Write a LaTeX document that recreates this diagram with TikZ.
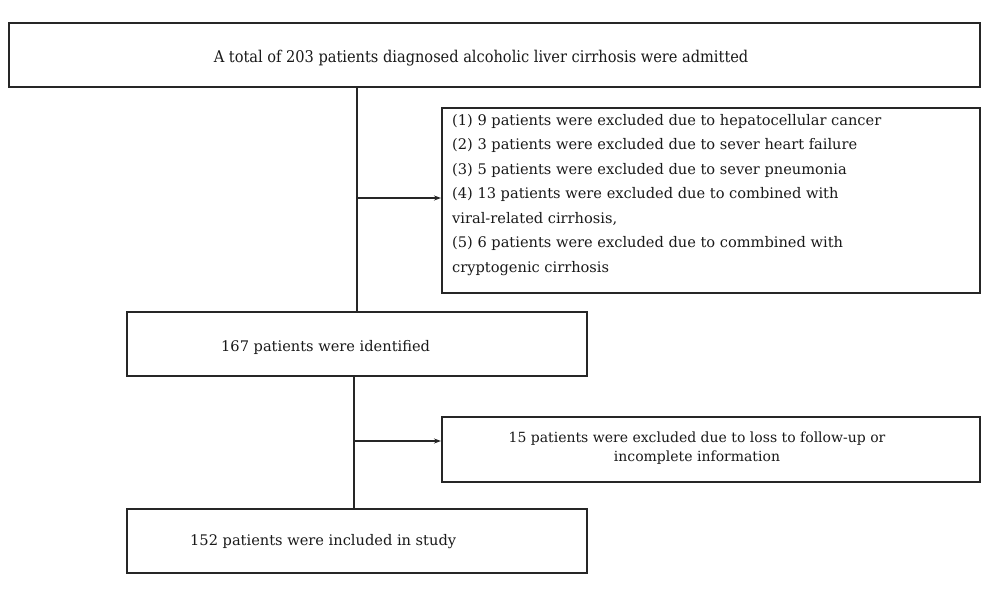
\documentclass[tikz,border=0pt]{standalone}
\usepackage{fontspec}
\setmainfont{DejaVu Serif}
\newfontfamily\condfont{DejaVu Serif Condensed}
\usetikzlibrary{arrows.meta}
\begin{document}
\begin{tikzpicture}[x=1pt,y=-1pt,
  box/.style={draw=black!85,line width=1.7pt,rectangle,inner sep=0pt,anchor=north west},
  txt/.style={inner sep=0pt,font=\fontsize{14.6}{24.5}\selectfont,text=black!90},
  conn/.style={draw=black!85,line width=1.6pt},
  arr/.style={conn,-{Stealth[length=7pt,width=5pt]}}]
\useasboundingbox (0,0) rectangle (1000,597);
% boxes
\node[box,minimum width=971pt,minimum height=64pt] (top) at (8,22) {};
\node[box,minimum width=538pt,minimum height=185pt] (excl) at (441,107) {};
\node[box,minimum width=460pt,minimum height=64pt] (ident) at (126,311) {};
\node[box,minimum width=538pt,minimum height=65pt] (loss) at (441,416) {};
\node[box,minimum width=460pt,minimum height=64pt] (incl) at (126,508) {};
% texts
\node[txt,anchor=center,font=\condfont\fontsize{16.2}{18}\selectfont] (toptxt) at (481,58) {A total of 203 patients diagnosed alcoholic liver cirrhosis were admitted};
\node[txt,anchor=north west,align=left] (excltxt) at (452,114) {(1) 9 patients were excluded due to hepatocellular cancer\\
(2) 3 patients were excluded due to sever heart failure\\
(3) 5 patients were excluded due to sever pneumonia\\
(4) 13 patients were excluded due to combined with\\
viral-related cirrhosis,\\
(5) 6 patients were excluded due to commbined with\\
cryptogenic cirrhosis};
\node[txt,anchor=west] (identtxt) at (221,347) {167 patients were identified};
\node[txt,anchor=center,align=center,font=\fontsize{14}{19}\selectfont] (losstxt) at (697,448) {15 patients were excluded due to loss to follow-up or\\incomplete information};
\node[txt,anchor=west] (incltxt) at (190,542) {152 patients were included in study};
% connectors
\coordinate (j1) at (357,198);
\coordinate (j2) at (354,441);
\draw[conn] (top.south -| j1) -- (ident.north -| j1);
\draw[arr] (j1) -- (j1 -| excl.west);
\draw[conn] (ident.south -| j2) -- (incl.north -| j2);
\draw[arr] (j2) -- (j2 -| loss.west);
\end{tikzpicture}
\end{document}
